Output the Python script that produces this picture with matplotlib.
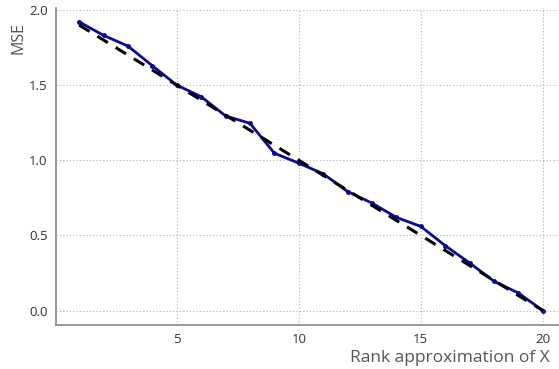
import matplotlib
matplotlib.use("Agg")
import matplotlib.pyplot as plt

rank = list(range(1, 21))
mse = [1.921, 1.831, 1.760, 1.629, 1.500, 1.423, 1.295, 1.246, 1.047, 0.981,
       0.910, 0.792, 0.715, 0.620, 0.560, 0.432, 0.317, 0.195, 0.117, 0.000]
ideal = [1.9, 1.8, 1.7, 1.6, 1.5, 1.4, 1.3, 1.2, 1.1, 1.0,
         0.9, 0.8, 0.7, 0.6, 0.5, 0.4, 0.3, 0.2, 0.1, 0.0]
xticks = [5, 10, 15, 20]
yticks = [0.0, 0.5, 1.0, 1.5, 2.0]

plt.rcParams['font.family'] = ['Open Sans', 'DejaVu Sans']

fig = plt.figure(figsize=(5.59, 3.69), dpi=100)
ax = fig.add_axes([56/559, 44/369, 510/559, (325-7.6)/369])

ax.plot(rank, mse, color='#0a0a9a', lw=2, marker='o', ms=2.5, zorder=3)
ax.plot(rank, ideal, color='black', lw=2.2, ls=(0, (4, 3)), zorder=4)

ax.set_xlim(0.05, 20.95)
ax.set_ylim(-0.096, 2.016)
ax.set_xticks(xticks)
ax.set_yticks(yticks)
ax.set_yticklabels([f"{v:.1f}" for v in yticks])
ax.tick_params(length=0, labelsize=9.5, labelcolor='#333333', pad=6)
ax.grid(True, ls=(0, (1, 2)), color='#b0b0b0', lw=0.8)
for s in ['top', 'right']:
    ax.spines[s].set_visible(False)
for s in ['left', 'bottom']:
    ax.spines[s].set_color('#888888')
    ax.spines[s].set_linewidth(1.2)

ax.set_xlabel('Rank approximation of X', fontsize=12.5, color='#555555', ha='right')
ax.xaxis.set_label_coords((550-56)/510, -(358-325)/317.4)
ax.xaxis.label.set_va('center')
ax.set_ylabel('MSE', fontsize=11.5, color='#555555', va='center')
ax.yaxis.set_label_coords(-(56-18)/510, (325-38)/317.4)

fig.savefig('out.png', dpi=100)
